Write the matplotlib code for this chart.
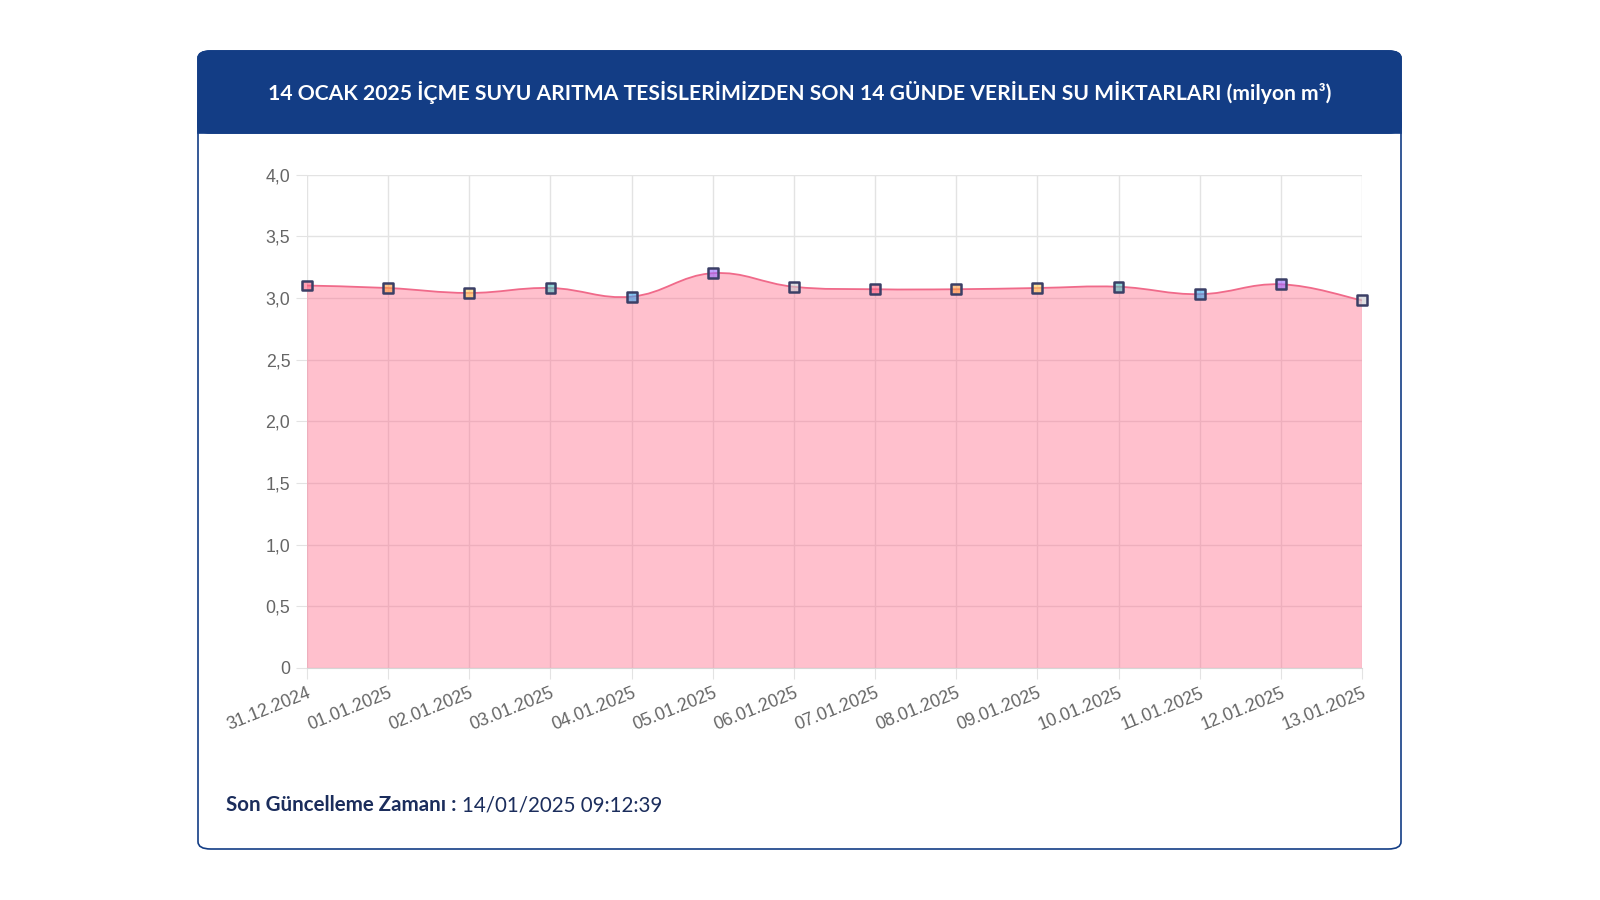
import numpy as np
import matplotlib
matplotlib.use("Agg")
import matplotlib.pyplot as plt
from matplotlib.patches import FancyBboxPatch, Rectangle, PathPatch
from matplotlib.path import Path
from matplotlib.ticker import FuncFormatter

# data
dates = ["31.12.2024", "01.01.2025", "02.01.2025", "03.01.2025", "04.01.2025",
         "05.01.2025", "06.01.2025", "07.01.2025", "08.01.2025", "09.01.2025",
         "10.01.2025", "11.01.2025", "12.01.2025", "13.01.2025"]
values = [3.10, 3.08, 3.04, 3.08, 3.01, 3.20, 3.09, 3.07, 3.07, 3.08, 3.09, 3.03, 3.11, 2.98]
yticks = [0, 0.5, 1.0, 1.5, 2.0, 2.5, 3.0, 3.5, 4.0]

title = "14 OCAK 2025 İÇME SUYU ARITMA TESİSLERİMİZDEN SON 14 GÜNDE VERİLEN SU MİKTARLARI (milyon m³)"
footer_label = "Son Güncelleme Zamanı :"
footer_value = "14/01/2025 09:12:39"

navy = "#133d85"
marker_cycle = ["#ff6384", "#ff9f40", "#ffcd56", "#4bc0c0", "#36a2eb", "#9966ff", "#c9cbcf"]

W, H = 1600, 900
fig = plt.figure(figsize=(16, 9), dpi=100)
fig.patch.set_facecolor("white")


def fx(px):
    return px / W


def fy(py):
    return 1 - py / H


# card
card_l, card_r, card_t, card_b = 198, 1401, 51, 849
head_b = 133
card = FancyBboxPatch((fx(card_l), fy(card_b)), fx(card_r - card_l), (card_b - card_t) / H,
                      boxstyle="round,pad=0,rounding_size=0.008", transform=fig.transFigure,
                      facecolor="white", edgecolor=navy, linewidth=1.2, zorder=-2)
fig.patches.append(card)
head = FancyBboxPatch((fx(card_l), fy(head_b)), fx(card_r - card_l), (head_b - card_t) / H,
                      boxstyle="round,pad=0,rounding_size=0.008", transform=fig.transFigure,
                      facecolor=navy, edgecolor=navy, linewidth=1.2, zorder=-1)
fig.patches.append(head)
fig.patches.append(Rectangle((fx(card_l), fy(head_b)), fx(card_r - card_l), 20 / H,
                             transform=fig.transFigure, facecolor=navy, edgecolor=navy,
                             linewidth=1.2, zorder=-1))
fig.text(fx(800), fy(93), title, color="white", fontsize=15.2, fontweight="bold",
         family="Lato", ha="center", va="center", zorder=2)

# footer
t1 = fig.text(fx(226), fy(805), footer_label + " ", color="#1b2d5c", fontsize=14.8,
              fontweight="bold", family="Lato", ha="left", va="center")
fig.canvas.draw()
bb = t1.get_window_extent()
fig.text(bb.x1 / W, fy(805), footer_value, color="#1b2d5c", fontsize=14.8,
         family="Lato", ha="left", va="center")

# chart
ax = fig.add_axes([fx(307), fy(668), fx(1362 - 307), (668 - 174.5) / H])
ax.set_zorder(3)
x = np.arange(len(dates))
y = np.array(values)

# smooth curve like chart.js (tension 0.4), built as bezier path from the data
t = 0.4
verts = [(x[0], y[0])]
codes = [Path.MOVETO]
for i in range(len(x) - 1):
    p0 = np.array([x[max(i - 1, 0)], y[max(i - 1, 0)]])
    p1 = np.array([x[i], y[i]])
    p2 = np.array([x[i + 1], y[i + 1]])
    p3 = np.array([x[min(i + 2, len(x) - 1)], y[min(i + 2, len(x) - 1)]])
    c1 = p1 + (p2 - p0) * t / 2
    c2 = p2 - (p3 - p1) * t / 2
    verts += [tuple(c1), tuple(c2), tuple(p2)]
    codes += [Path.CURVE4] * 3
line_path = Path(verts, codes)
fill_verts = verts + [(x[-1], 0), (x[0], 0), (x[0], y[0])]
fill_codes = codes + [Path.LINETO, Path.LINETO, Path.CLOSEPOLY]
ax.add_patch(PathPatch(Path(fill_verts, fill_codes), facecolor=(1, 99 / 255, 132 / 255, 0.4),
                       edgecolor="none", zorder=2))
ax.add_patch(PathPatch(line_path, facecolor="none", edgecolor="#f06a8a", linewidth=1.3, zorder=3))

colors = [marker_cycle[i % len(marker_cycle)] for i in range(len(x))]
ax.scatter(x, y, s=50, marker="s", c=colors, alpha=0.6, edgecolors="none",
           zorder=4, clip_on=False)
ax.scatter(x, y, s=50, marker="s", facecolors="none", edgecolors="#3b3f66",
           linewidths=1.8, zorder=5, clip_on=False)

ax.set_xlim(x[0], x[-1])
ax.set_ylim(0, 4)
ax.set_yticks(yticks)
ax.yaxis.set_major_formatter(FuncFormatter(lambda v, p: "0" if v == 0 else f"{v:.1f}".replace(".", ",")))
ax.set_xticks(x)
ax.set_xticklabels(dates, rotation=22, ha="right", rotation_mode="anchor")
ax.grid(True, color="#e3e3e3", linewidth=1, zorder=0)
ax.set_axisbelow(True)
for s in ["top", "right", "left"]:
    ax.spines[s].set_visible(False)
ax.spines["bottom"].set_color("#d6d6d6")
ax.tick_params(axis="both", length=8, color="#e3e3e3", labelcolor="#666666", labelsize=12.8, pad=4)
for lab in ax.get_xticklabels() + ax.get_yticklabels():
    lab.set_family("Liberation Sans")
ax.set_facecolor("none")

fig.savefig("out.png", dpi=100)
